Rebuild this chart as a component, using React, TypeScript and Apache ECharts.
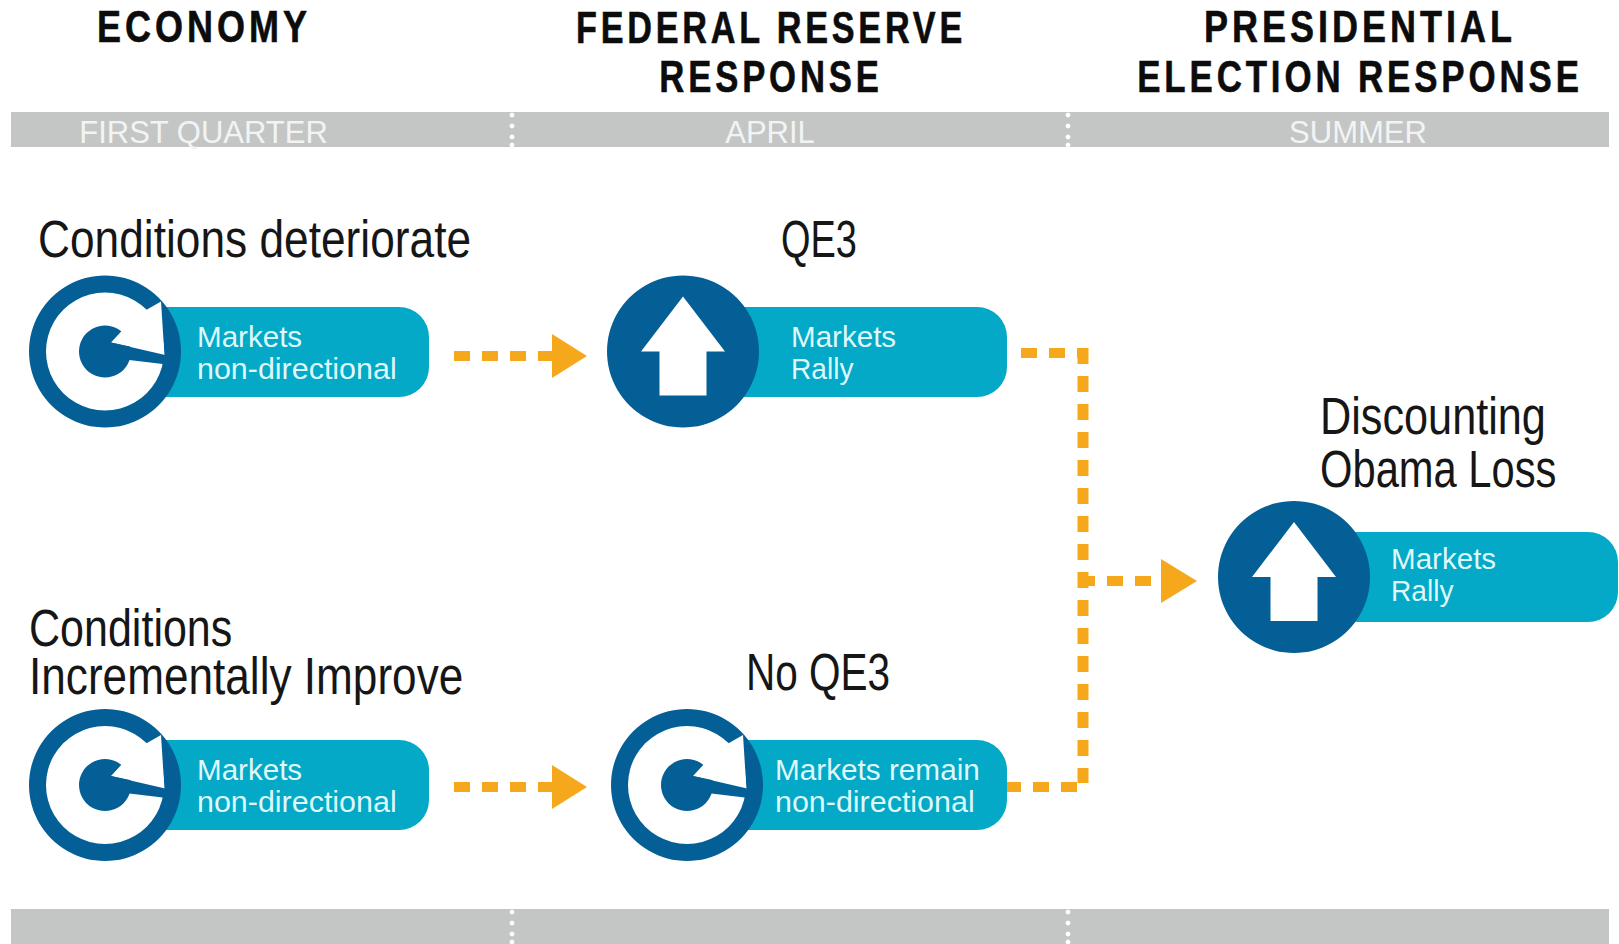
import React, { useEffect, useRef } from "react";
import * as echarts from "echarts";

const columnTitles = [["ECONOMY"], ["FEDERAL RESERVE", "RESPONSE"], ["PRESIDENTIAL", "ELECTION RESPONSE"]];
const columnPeriods = ["FIRST QUARTER", "APRIL", "SUMMER"];
const scenarioHeadings = [
  ["Conditions deteriorate"],
  ["QE3"],
  ["Conditions", "Incrementally Improve"],
  ["No QE3"],
  ["Discounting", "Obama Loss"],
];
const marketOutcomes = [
  ["Markets", "non-directional"],
  ["Markets", "Rally"],
  ["Markets", "non-directional"],
  ["Markets remain", "non-directional"],
  ["Markets", "Rally"],
];
const outcomeIcons = ["cycle", "up", "cycle", "cycle", "up"];

const NAVY = "#045f97";
const TEAL = "#03a9c6";
const GREY = "#c4c6c5";
const ORANGE = "#f6a81c";
const INK = "#161616";
const PILL_TEXT = "#dff8fb";
const BODY_FONT = "'Liberation Sans', sans-serif";

const text = (s: string, x: number, baseline: number, size: number, fill: string, opts: any = {}) => ({
  type: "text",
  x,
  y: baseline - 0.36 * size,
  scaleX: opts.scaleX ?? 1,
  style: {
    text: s,
    x: 0,
    y: 0,
    fill,
    font: `${opts.weight ?? "normal"} ${size}px ${BODY_FONT}`,
    align: opts.align ?? "left",
    verticalAlign: "middle",
    ...(opts.stroke ? { stroke: fill, lineWidth: opts.stroke } : {}),
  },
});

const poly = (cx: number, cy: number, pts: number[][], fill: string) => ({
  type: "polygon",
  shape: { points: pts.map(([a, b]) => [cx + a, cy + b]) },
  style: { fill },
});

const dashed = (pts: number[][], width: number) => ({
  type: "polyline",
  shape: { points: pts },
  style: { stroke: ORANGE, lineWidth: width, lineDash: [16, 12], lineCap: "butt", fill: "none" },
});

const icon = (kind: string, cx: number, cy: number) => {
  const base: any[] = [{ type: "circle", shape: { cx, cy, r: 76 }, style: { fill: NAVY } }];
  if (kind === "up") {
    base.push(
      poly(cx, cy, [[0, -55], [42, 0], [23.5, 0], [23.5, 44], [-23.5, 44], [-23.5, 0], [-42, 0]], "#ffffff")
    );
  } else {
    base.push(
      { type: "circle", shape: { cx, cy, r: 59 }, style: { fill: "#ffffff" } },
      { type: "circle", shape: { cx, cy, r: 26 }, style: { fill: NAVY } },
      poly(cx, cy, [[42, -42], [56, -50], [60, 12], [58, 2], [6, -9], [18, -22]], "#ffffff"),
      poly(cx, cy, [[6, -9], [58, 3], [62, 4], [62, 13], [20, 8]], NAVY)
    );
  }
  return base;
};

const pill = (left: number, right: number, top: number) => ({
  type: "rect",
  shape: { x: left, y: top, width: right - left, height: 90, r: 30 },
  style: { fill: TEAL },
});

const arrowHead = (x0: number, tip: number, cy: number, half: number) => ({
  type: "polygon",
  shape: { points: [[x0, cy - half], [tip, cy], [x0, cy + half]] },
  style: { fill: ORANGE },
});

function buildGraphics() {
  const out: any[] = [];

  [[112, 35], [909, 35]].forEach(([y, h]) => {
    out.push({ type: "rect", shape: { x: 11, y, width: 1598, height: h }, style: { fill: GREY } });
    [512, 1068].forEach((x) => {
      [3, 14, 25, 33].forEach((d) => {
        out.push({ type: "circle", shape: { cx: x, cy: y + d, r: 2.4 }, style: { fill: "#ffffff" } });
      });
    });
  });

  const titleX = [204, 771, 1360];
  const titleScale = [[0.8], [0.76], [0.8, 0.78]].map((row) => row);
  const titleScales = [[0.8], [0.76, 0.77], [0.8, 0.775]];
  columnTitles.forEach((lines, i) => {
    lines.forEach((line, j) => {
      out.push(
        text(line, titleX[i], 43 + j * 50, 45, "#0c0c0c", {
          weight: "bold",
          align: "center",
          scaleX: titleScales[i][j],
          stroke: 0.6,
        })
      );
    });
  });

  const periodX = [203.5, 770, 1358];
  columnPeriods.forEach((p, i) => out.push(text(p, periodX[i], 144, 31, "#f2f4f4", { align: "center" })));

  out.push(dashed([[454, 356], [552, 356]], 10), arrowHead(552, 587, 356, 22));
  out.push(dashed([[454, 787], [552, 787]], 10), arrowHead(552, 587, 787, 22));
  out.push(dashed([[1021, 353], [1088, 353]], 10));
  out.push(dashed([[1083, 348], [1083, 783]], 11));
  out.push(dashed([[1005, 787], [1078, 787]], 10));
  out.push(dashed([[1079, 581], [1161, 581]], 10), arrowHead(1161, 1197, 581, 22));

  const iconPos = [[105, 351.5], [683, 351.5], [105, 785], [687, 785], [1294, 577]];
  const pillRight = [429, 1007, 429, 1007, 1618];
  const pillTop = [307, 307, 740, 740, 532];
  const pillTextX = [197, 791, 197, 775, 1391];
  const pillBase = [347, 347, 780, 780, 569];
  const pillScale = [[1.02, 1.05], [1.02, 0.97], [1.02, 1.05], [1.025, 1.05], [1.02, 0.97]];
  marketOutcomes.forEach((lines, i) => {
    const [cx, cy] = iconPos[i];
    out.push(pill(cx, pillRight[i], pillTop[i]));
    out.push(...icon(outcomeIcons[i], cx, cy));
    lines.forEach((line, j) => {
      out.push(text(line, pillTextX[i], pillBase[i] + j * 32, 29, PILL_TEXT, { scaleX: pillScale[i][j] }));
    });
  });

  const headX = [38, 819, 29, 818, 1320];
  const headAlign = ["left", "center", "left", "center", "left"];
  const headBase = [258, 258, 647, 691, 435];
  const headGap = [0, 0, 48, 0, 53];
  const headScale = [[0.868], [0.744], [0.844, 0.866], [0.795], [0.848, 0.818]];
  scenarioHeadings.forEach((lines, i) => {
    lines.forEach((line, j) => {
      out.push(
        text(line, headX[i], headBase[i] + j * headGap[i], 51, INK, {
          align: headAlign[i],
          scaleX: headScale[i][j],
        })
      );
    });
  });
  return out;
}

export default function App() {
  const ref = useRef<HTMLDivElement>(null);
  useEffect(() => {
    document.body.style.margin = "0";
    const chart = echarts.init(ref.current!, undefined, { renderer: "svg" });
    chart.setOption({
      animation: false,
      backgroundColor: "#ffffff",
      graphic: { elements: buildGraphics() },
    });
    // The column titles are letterspaced in the reference; zrender has no such style.
    ref.current!.querySelectorAll("text").forEach((t) => {
      if (/bold/.test(t.getAttribute("style") || "") || t.style.fontWeight === "bold") {
        t.style.letterSpacing = "5px";
      }
    });
    return () => chart.dispose();
  }, []);
  return <div ref={ref} style={{ width: 1619, height: 944 }} />;
}
